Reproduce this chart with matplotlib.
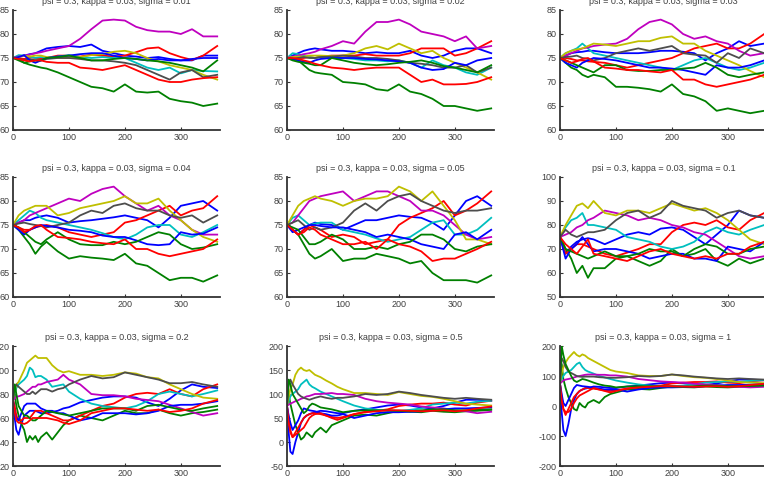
import matplotlib
matplotlib.use("Agg")
import matplotlib.pyplot as plt

plt.rcParams['font.family'] = ['Liberation Sans', 'DejaVu Sans']
plt.rcParams['axes.unicode_minus'] = False

# sample days
days_a = [0, 10, 20, 30, 40, 50, 60, 80, 100, 120, 140, 160, 180, 200, 220, 240, 260, 280, 300, 320, 340, 365]
days_b = [0, 3, 6, 10, 15, 20, 25, 30, 35, 40, 45, 50, 60, 70, 80, 90, 100, 120, 140, 160, 180, 200, 220, 240, 260,
          280, 300, 320, 340, 365]

sigmas = ['0.01', '0.02', '0.03', '0.04', '0.05', '0.1', '0.2', '0.5', '1']

# line order: b, g, r, c, m, y, k, b, g, r
paths_001 = [
    [75, 75.3, 75.5, 75.8, 76, 76.5, 77, 77.3, 77.5, 77.3, 77.8, 76.5, 76, 75.5, 75.3, 75, 75.2, 74.8, 74.5, 74.5, 75.5, 75.5],
    [75, 74.8, 74, 73.6, 73.3, 73, 72.8, 72, 71, 70, 69, 68.7, 68, 69.5, 68, 67.8, 68, 66.5, 66, 65.7, 65, 65.5],
    [75, 75, 74.8, 75.2, 75, 74.8, 75, 75.5, 75.5, 75.3, 75.7, 75.5, 75.3, 75.5, 76.2, 77, 77.2, 76, 75.2, 74.6, 75.5, 77.5],
    [75, 75.6, 75.5, 75.3, 75, 75.2, 75, 75.3, 75.6, 75.2, 75, 75.2, 75, 75, 74, 73, 72.5, 73, 71.8, 72.5, 72.3, 72.2],
    [75, 75.3, 75.5, 75.7, 76, 76.2, 76.5, 77, 77.5, 79, 81, 82.8, 83, 82.8, 81.5, 80.8, 80.5, 80.5, 80, 81, 79.5, 79.5],
    [75, 75.2, 75.5, 75.3, 75.5, 75.5, 75.2, 75, 75, 75.2, 75.6, 75.8, 76.3, 76.5, 76, 75, 74.3, 73.5, 73, 72.5, 71.5, 70.5],
    [75, 74.8, 74.6, 74.8, 74.5, 74.5, 74.8, 75, 75, 74.8, 74.5, 74.5, 74.3, 74, 73.5, 72.5, 71.5, 70.5, 72, 72.5, 71, 71.5],
    [75, 75.2, 75.6, 74.5, 74, 74.5, 75, 75.3, 75.5, 75.8, 76, 76, 75.5, 75, 74.8, 74.5, 74.8, 74.5, 74.5, 74.8, 75, 75],
    [75, 74.5, 74, 74.3, 74.5, 74.5, 75, 75.2, 75.5, 75, 74.5, 74.5, 74.8, 75, 74.8, 74.5, 74.3, 74, 73.5, 73, 72.2, 74.5],
    [75, 74.8, 74.5, 74.3, 74.5, 74.5, 74.2, 74, 74, 73, 72.8, 72.5, 73, 73.5, 72.5, 71.5, 70.5, 70, 70, 70.5, 70.8, 71],
]
paths_002 = [
    [75, 75.5, 76, 76.5, 76.8, 77, 76.8, 76.5, 76.5, 76.3, 76, 76.2, 76, 76, 76.5, 75.5, 75, 75.5, 76.5, 77, 77, 76],
    [75, 74.8, 74.5, 73.5, 72.5, 72, 71.8, 71.5, 70, 69.8, 69.5, 68.5, 68.2, 69.5, 68, 67.5, 66.5, 65, 65, 64.5, 64, 64.5],
    [75, 75, 75, 75, 75.2, 75, 75.3, 75.5, 75.5, 75.5, 75.8, 75.5, 75.5, 75.5, 76, 77, 77, 77, 75.5, 76, 77, 78.5],
    [75, 76, 75.8, 75.5, 75.2, 75, 75.2, 75, 75, 74.8, 74.5, 74.5, 74.3, 74.5, 74, 73, 74.5, 73.5, 73, 72, 71.5, 73],
    [75, 75.3, 75.5, 75.8, 76, 76.3, 76.8, 77.5, 78.5, 78, 80.5, 82.5, 82.5, 83, 82, 80.5, 80, 79.5, 78.5, 79.5, 77, 77.5],
    [75, 75.2, 75.3, 75.3, 75.5, 75.5, 75.5, 75.4, 75.5, 76, 77, 77.5, 76.8, 78, 77, 76, 76.5, 75, 74, 73, 72, 70.5],
    [75, 74.8, 75, 75.2, 75, 75, 75.2, 75.3, 75.5, 75.3, 75, 75, 74.8, 74.5, 74, 73.8, 73.5, 73, 73, 73.5, 72, 73],
    [75, 74.8, 74.5, 74.2, 74, 74.5, 74.8, 75, 75, 75, 74.8, 74.7, 74.5, 74.3, 74, 73, 72.5, 72.7, 74, 73.5, 74.5, 75],
    [75, 74.5, 74.2, 74, 73.8, 73.5, 73.5, 75, 74.5, 74, 73.7, 73.5, 73.7, 74, 74.2, 74.5, 74, 73.3, 73, 72.5, 72, 73.5],
    [75, 75, 74.8, 74.5, 74.2, 73.8, 73.5, 73, 72.8, 72.5, 72.8, 73, 73, 73, 71.5, 70, 70.5, 69.5, 69.5, 69.6, 70, 71],
]
paths_003 = [
    [75, 75.5, 76, 76.2, 76.3, 76.5, 76.5, 76.2, 76, 76, 76, 76.2, 76.5, 76.5, 76.3, 76, 74.5, 76, 77, 78.5, 77.5, 78],
    [75, 74, 73, 72.5, 71.5, 71, 71.5, 71, 69, 69, 68.8, 68.5, 68, 69.5, 67.5, 67, 66, 64, 64.5, 64, 63.5, 64],
    [75, 75, 74.8, 74.5, 74.5, 74.3, 74.2, 74, 73.5, 73, 73.5, 74, 74.5, 75, 76, 77, 77.5, 78, 77, 77, 78, 80],
    [75, 76, 76.5, 77, 78, 77, 76, 75.5, 75, 74.5, 74, 73.5, 73, 72.5, 73.5, 74.5, 75, 74, 73, 72.5, 73, 74],
    [75, 75.5, 76, 76.5, 77, 77.2, 77.5, 77.8, 78, 79, 81, 82.5, 83, 82, 80, 79, 79.5, 78.5, 78, 76.5, 75.5, 76],
    [75, 76, 76.5, 76.8, 77, 77.5, 78, 77.8, 77.5, 78, 78.5, 78.5, 79.2, 79.5, 78, 78, 76.5, 75.5, 74.5, 73.5, 72.3, 71],
    [75, 75.2, 75.3, 75.5, 75, 74.8, 74.5, 75, 76, 76.5, 77, 76.5, 77, 77.5, 76, 75.7, 75.5, 74, 76, 75, 77, 76],
    [75, 74, 73.5, 73, 74, 74.5, 75, 74.8, 74.5, 74, 73.5, 73, 73, 72.8, 72.5, 72, 71.5, 73.5, 73, 73, 73.5, 74.5],
    [75, 74.5, 74, 73.5, 73, 72.5, 72, 73.5, 73.5, 72.5, 72.3, 72.3, 72.5, 72.5, 72.8, 73, 74, 73, 71.5, 71, 71.5, 72],
    [75, 74.5, 74, 74.3, 74.8, 75, 74.3, 73, 72.8, 72.5, 72.5, 72.2, 72, 72.5, 70.5, 70.5, 69.5, 69, 69.5, 70, 70.5, 71.5],
]
paths_004 = [
    [75, 75.5, 76, 76, 76.5, 76.8, 77, 76.5, 75.5, 75.8, 76, 76.3, 76.6, 77, 76.5, 76, 74.5, 76.5, 79, 79.5, 80, 78],
    [75, 74, 72.5, 71, 69, 70.5, 71.5, 69.5, 68, 68.5, 68.2, 68, 67.7, 69, 67, 66.5, 65, 63.5, 64, 64, 63.2, 64.5],
    [75, 74.5, 74, 74, 74.5, 74.8, 75, 74.5, 73.5, 73, 72.5, 73, 73.5, 75.5, 76, 77, 78, 79, 77, 78, 78.5, 81],
    [75, 76, 77, 78, 77.5, 76.5, 76, 75.5, 75, 74.5, 74, 73.3, 72.5, 72, 73, 74.5, 75, 75, 73, 72.5, 73.5, 75],
    [75, 75.5, 76, 77, 77.5, 78, 78.5, 79.5, 80.5, 80, 81.5, 82.5, 83, 81, 79.5, 78, 79, 77, 76, 74, 73, 73],
    [75, 77, 78, 78.5, 79, 79, 79, 77, 77.5, 78.5, 79, 79.5, 80, 81, 79.5, 79.5, 80.5, 78, 76, 74, 72.5, 71.5],
    [75, 75.3, 75.5, 75.2, 75, 74.8, 74.5, 75, 75.5, 77, 78, 77.5, 79, 79.5, 78.5, 78, 78, 77, 76.5, 77, 75.5, 77],
    [75, 74, 73, 74, 74.5, 75, 74.8, 74.5, 74, 73.8, 73.5, 72.8, 72.5, 72.5, 71.8, 71, 70.8, 71, 73.5, 73, 73.2, 74.5],
    [75, 74.5, 73.5, 72.5, 71.5, 71, 72, 73.5, 72, 71, 70.8, 70.8, 71.5, 71, 71.5, 72.5, 73.5, 73, 71, 70, 70.3, 71],
    [75, 74.5, 73.5, 74, 74.8, 75, 74, 72.5, 72.3, 72, 71.5, 71.2, 71, 72, 70, 70, 69, 68.5, 69, 69.5, 70, 72],
]
paths_005 = [
    [75, 74, 73, 74, 75, 75.5, 75.2, 75, 74, 75, 76, 76, 76.5, 77, 76.7, 76.5, 75.5, 74, 77, 80, 81, 79],
    [75, 74, 73, 71, 69, 68, 68.5, 70, 67.5, 68, 68, 69, 68.5, 68, 67, 67.5, 65, 63.5, 63.5, 63.5, 63, 64.5],
    [75, 74, 73, 74, 75, 74.5, 74, 72.5, 73, 72.5, 71, 71.5, 72, 75, 76.5, 77.5, 78.5, 80, 77, 78, 79.5, 82],
    [75, 76.5, 77, 76, 75, 75.3, 75.5, 75.5, 74, 73.5, 73, 72.2, 71.5, 72, 72.5, 74, 75.5, 76, 73, 73, 74, 76.5],
    [75, 75.5, 77, 78.5, 80, 80.5, 81, 81.5, 82, 80, 81, 82, 82, 81, 80, 78, 78, 77, 75, 73, 72, 72.5],
    [75, 77, 79, 80, 80.5, 81, 80.5, 80, 79, 80, 80.5, 80.5, 81, 83, 82, 80, 82, 79, 76, 72, 72, 71],
    [75, 75.5, 76, 75, 74, 74.5, 74, 74.5, 75.5, 78, 79.5, 78, 80, 81, 81.5, 80, 79, 78, 77.5, 78, 78, 78.5],
    [75, 73.5, 74, 74.5, 75, 75, 74.8, 74.5, 74.5, 74, 73.5, 72.5, 73, 72.5, 72, 71, 70.5, 70, 73, 73.5, 72, 74],
    [75, 74.5, 74, 72.5, 71, 71, 71.5, 73, 72, 70, 70, 70.5, 70, 71, 71.5, 73, 73, 72, 70, 69.5, 70.5, 71],
    [75, 74, 73, 73.5, 74.5, 74, 73, 72, 71, 71, 71.5, 70, 72, 71, 70.5, 69.5, 67.5, 68, 68, 69, 70, 71.5],
]
paths_01 = [
    [75, 68, 71, 73, 74, 74.5, 74, 72, 74, 76, 77, 76, 78.5, 79, 78, 75, 72, 76, 80, 86, 84, 83],
    [75, 70, 66, 60, 63, 58, 62, 62, 66, 67, 65, 63, 65, 70, 67, 68, 70, 65, 63, 66, 64, 66],
    [75, 68, 70, 72, 72, 71, 70, 68, 67, 68.5, 70, 72, 72, 77, 80, 81, 80, 82, 79, 78, 82, 85],
    [75, 79, 82, 83, 85, 80, 80, 79, 78, 75, 74, 73, 71, 70, 71, 73, 77, 79, 77, 76, 78, 80],
    [75, 76, 77, 79, 80, 82, 83, 86, 85, 84, 82, 83, 82, 80, 79, 77, 76, 73, 70, 67, 66, 67],
    [75, 80, 84, 88, 89, 87, 90, 85, 84, 86, 86, 85, 87, 89, 87.5, 86, 87, 85, 82, 78, 74, 72],
    [75, 78, 76, 75, 76, 77, 77, 78, 82, 85, 86, 83, 85, 90, 88, 87, 86, 83, 85, 86, 84, 83],
    [75, 66, 70, 72, 75, 72, 69, 70, 70, 69, 68, 66, 67, 68, 68, 66, 66, 65, 71, 70, 69, 73],
    [75, 70, 69, 68, 67, 66, 67, 69, 67, 67, 68, 70, 69, 69, 67, 70, 72, 71, 68, 68, 70, 71],
    [75, 72, 70, 68, 71, 74, 68, 67, 66, 65, 67, 69, 70, 68, 67, 66, 67, 66, 68, 68, 71, 73],
]
paths_02 = [
    [75, 60, 50, 46, 55, 62, 64, 66, 66, 66, 65, 64, 64, 65, 66, 68, 69, 73, 75, 77, 78, 78, 77, 73, 70, 76, 83, 88, 86, 85],
    [75, 80, 70, 62, 55, 50, 40, 45, 42, 45, 40, 44, 48, 42, 48, 54, 58, 62, 60, 58, 62, 66, 64, 64, 67, 64, 62, 64, 65, 67],
    [75, 70, 62, 58, 58, 60, 60, 60, 63, 66, 66, 66, 64, 62, 60, 58, 58, 62, 66, 70, 72, 77, 80, 81, 80, 84, 80, 78, 84, 88],
    [75, 80, 85, 88, 90, 92, 95, 102, 100, 94, 95, 95, 92, 86, 87, 88, 82, 76, 72, 70, 69, 68, 70, 74, 80, 82, 80, 78, 80, 83],
    [75, 76, 78, 78, 79, 80, 82, 84, 86, 86, 88, 88, 90, 91, 92, 96, 92, 88, 80, 79, 79, 78, 76, 75, 74, 71, 68, 65, 62, 64],
    [75, 82, 88, 90, 95, 100, 106, 108, 110, 112, 110, 110, 110, 104, 100, 98, 99, 96, 96, 95, 96, 98, 97, 94, 93, 88, 84, 80, 77, 76],
    [75, 85, 88, 86, 84, 82, 80, 80, 82, 80, 82, 84, 84, 82, 84, 85, 88, 92, 95, 93, 94, 98, 96, 94, 92, 89, 89, 90, 88, 86],
    [75, 65, 60, 58, 64, 70, 72, 72, 72, 72, 70, 68, 66, 66, 64, 64, 62, 58, 60, 64, 64, 64, 63, 64, 66, 70, 71, 71, 72, 74],
    [75, 88, 80, 70, 66, 62, 62, 60, 58, 58, 60, 62, 66, 65, 64, 63, 62, 64, 66, 68, 68, 68, 66, 70, 71, 69, 67, 66, 68, 70],
    [75, 65, 58, 56, 56, 55, 56, 58, 60, 60, 60, 60, 60, 59, 58, 56, 55, 58, 64, 66, 68, 68, 67, 66, 67, 65, 66, 68, 72, 75],
]
paths_05 = [
    [75, 20, -20, -25, 0, 20, 40, 50, 55, 58, 60, 62, 65, 64, 62, 60, 60, 65, 68, 72, 76, 78, 76, 72, 70, 75, 82, 88, 88, 86],
    [75, 100, 80, 60, 35, 20, 5, 10, 20, 15, 10, 20, 30, 20, 35, 40, 45, 55, 57, 55, 60, 65, 63, 62, 65, 63, 62, 64, 65, 67],
    [75, 50, 25, 10, 20, 30, 40, 50, 55, 58, 60, 60, 58, 55, 52, 50, 52, 58, 63, 65, 68, 75, 78, 80, 80, 82, 78, 76, 82, 86],
    [75, 85, 95, 100, 105, 110, 120, 125, 130, 120, 115, 112, 105, 100, 95, 90, 85, 76, 70, 67, 65, 65, 67, 70, 78, 80, 82, 80, 84, 86],
    [75, 78, 80, 82, 85, 87, 90, 92, 95, 96, 98, 100, 100, 101, 102, 100, 100, 98, 90, 85, 82, 80, 78, 74, 72, 70, 66, 64, 60, 63],
    [75, 95, 110, 120, 140, 150, 155, 150, 148, 150, 145, 140, 135, 128, 122, 115, 110, 102, 102, 100, 98, 104, 100, 96, 94, 90, 85, 80, 78, 76],
    [75, 120, 130, 120, 110, 100, 95, 92, 90, 88, 90, 92, 95, 92, 90, 92, 92, 95, 100, 98, 100, 105, 102, 98, 95, 92, 90, 92, 90, 88],
    [75, 55, 40, 25, 35, 45, 60, 70, 68, 66, 65, 64, 60, 58, 55, 55, 58, 50, 55, 60, 62, 62, 63, 64, 66, 68, 70, 70, 71, 72],
    [75, 130, 120, 100, 90, 80, 70, 60, 65, 75, 80, 78, 72, 70, 68, 65, 62, 65, 66, 66, 66, 65, 64, 66, 68, 68, 66, 66, 67, 68],
    [75, 40, 20, 10, 15, 20, 25, 30, 40, 50, 55, 58, 60, 55, 50, 46, 50, 58, 62, 64, 66, 66, 65, 64, 65, 66, 64, 66, 70, 74],
]
paths_1 = [
    [75, -20, -80, -100, -60, -10, 20, 40, 50, 55, 58, 60, 65, 64, 62, 60, 60, 65, 68, 72, 76, 78, 76, 72, 70, 75, 82, 88, 88, 86],
    [75, 140, 90, 60, 30, 10, -10, -15, 10, 0, -5, 10, 20, 10, 30, 40, 45, 55, 57, 55, 60, 65, 63, 62, 65, 63, 62, 64, 65, 67],
    [75, 30, -10, -30, -10, 10, 30, 40, 50, 55, 60, 60, 58, 55, 52, 50, 52, 58, 63, 65, 68, 75, 78, 80, 80, 82, 78, 76, 82, 86],
    [75, 90, 100, 110, 115, 120, 130, 140, 145, 130, 120, 115, 108, 100, 95, 90, 85, 78, 72, 68, 66, 66, 68, 72, 78, 80, 82, 80, 84, 86],
    [75, 80, 85, 88, 90, 92, 95, 98, 100, 102, 104, 105, 105, 104, 104, 102, 102, 98, 90, 86, 82, 80, 78, 74, 72, 70, 66, 64, 62, 64],
    [75, 110, 130, 145, 160, 170, 180, 170, 165, 172, 168, 160, 150, 140, 130, 120, 115, 110, 102, 100, 100, 105, 100, 96, 94, 90, 85, 80, 78, 76],
    [75, 160, 150, 130, 115, 110, 105, 100, 98, 97, 98, 98, 98, 96, 95, 94, 94, 96, 100, 98, 100, 105, 102, 98, 95, 92, 90, 92, 90, 88],
    [75, 40, 10, 0, 20, 40, 60, 70, 68, 66, 65, 64, 60, 58, 55, 55, 55, 48, 55, 60, 62, 62, 63, 64, 66, 68, 70, 70, 71, 72],
    [75, 200, 170, 140, 120, 100, 85, 80, 85, 90, 88, 85, 78, 72, 68, 66, 62, 65, 66, 66, 66, 65, 64, 66, 68, 68, 66, 66, 67, 68],
    [75, 20, -10, -20, -20, -10, 10, 25, 35, 40, 45, 50, 60, 55, 50, 45, 50, 58, 62, 64, 66, 66, 65, 64, 65, 66, 64, 66, 70, 74],
]

all_paths = [paths_001, paths_002, paths_003, paths_004, paths_005, paths_01, paths_02, paths_05, paths_1]
all_days = [days_a] * 6 + [days_b] * 3
ylims = [(60, 85)] * 5 + [(50, 100), (20, 120), (-50, 200), (-200, 200)]
ysteps = [5] * 5 + [10, 20, 50, 100]

colors = [(0, 0, 1), (0, 0.5, 0), (1, 0, 0), (0, 0.75, 0.75), (0.75, 0, 0.75),
          (0.75, 0.75, 0), (0.3, 0.3, 0.3), (0, 0, 1), (0, 0.5, 0), (1, 0, 0)]

W, H = 764, 480
lefts = [13, 287, 560]
tops = [10, 177, 346]
ax_w, ax_h = 207, 120

fig = plt.figure(figsize=(W / 100, H / 100), dpi=100)
txt = '#404040'

for k in range(9):
    r, c = divmod(k, 3)
    ax = fig.add_axes([lefts[c] / W, 1 - (tops[r] + ax_h) / H, ax_w / W, ax_h / H])
    for j, ys in enumerate(all_paths[k]):
        ax.plot(all_days[k], ys, color=colors[j], lw=1.3)
    lo, hi = ylims[k]
    ax.set_xlim(0, 370)
    ax.set_ylim(lo, hi)
    ax.set_xticks([0, 100, 200, 300])
    ax.set_yticks(range(lo, hi + 1, ysteps[k]))
    for s in ['top', 'right']:
        ax.spines[s].set_visible(False)
    for s in ['left', 'bottom']:
        ax.spines[s].set_color('#333333')
        ax.spines[s].set_linewidth(1.3)
    ax.tick_params(direction='in', length=2.5, width=0.8, color='#333333',
                   labelsize=6.5, labelcolor=txt, pad=2.5)
    # top row titles run off the top edge, as in the original
    ax.set_title('psi = 0.3, kappa = 0.03, sigma = ' + sigmas[k], fontsize=6.5, color=txt, pad=4.5)

fig.savefig('out.png', dpi=100)
